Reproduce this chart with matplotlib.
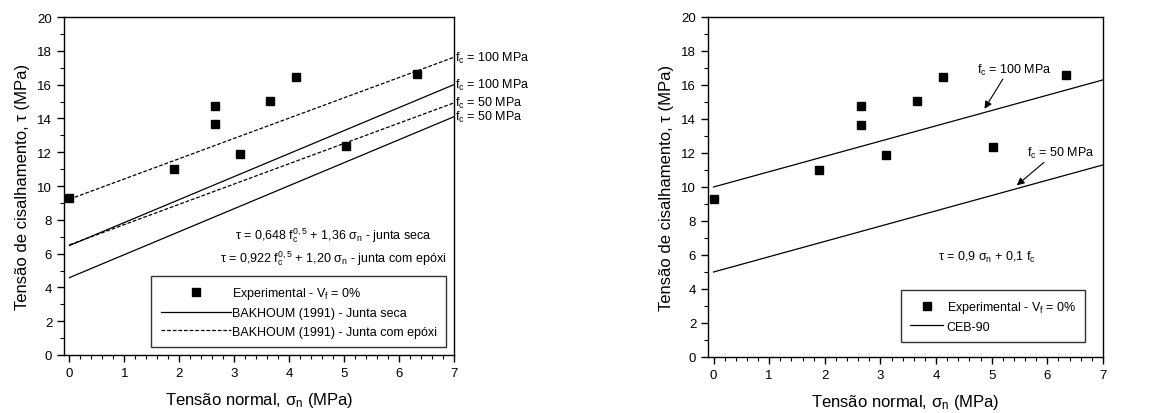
import matplotlib
matplotlib.use('Agg')
import matplotlib.pyplot as plt
from matplotlib.ticker import MultipleLocator
from matplotlib.lines import Line2D

plt.rcParams['font.family'] = ['Liberation Sans', 'DejaVu Sans']
plt.rcParams['mathtext.fontset'] = 'custom'
plt.rcParams['mathtext.rm'] = 'Liberation Sans'
plt.rcParams['mathtext.it'] = 'Liberation Sans'
plt.rcParams['mathtext.bf'] = 'Liberation Sans'

# experimental points (same in both panels)
sigma_exp = [0.0, 1.9, 2.65, 2.65, 3.1, 3.65, 4.12, 5.03, 6.33]
tau_exp   = [9.3, 11.0, 14.75, 13.65, 11.9, 15.05, 16.45, 12.35, 16.6]

# line endpoints
line_x = [0, 7]
bakhoum_seca_100  = [6.48, 16.0]
bakhoum_seca_50   = [4.58, 14.1]
bakhoum_epoxi_100 = [9.22, 17.62]
bakhoum_epoxi_50  = [6.52, 14.92]
ceb_100 = [10.0, 16.3]
ceb_50  = [5.0, 11.3]

left_labels = ['f$_c$ = 100 MPa', 'f$_c$ = 100 MPa', 'f$_c$ = 50 MPa', 'f$_c$ = 50 MPa']

BLACK = '#000000'
TXT = 9


def style_axes(ax):
    ax.set_xlim(-0.1, 7)
    ax.set_ylim(0, 20)
    ax.xaxis.set_major_locator(MultipleLocator(1))
    ax.xaxis.set_minor_locator(MultipleLocator(0.2))
    ax.yaxis.set_major_locator(MultipleLocator(2))
    ax.yaxis.set_minor_locator(MultipleLocator(1))
    ax.tick_params(which='major', direction='out', length=5, width=1, labelsize=9.5)
    ax.tick_params(which='minor', direction='out', length=3, width=0.8)
    for sp in ax.spines.values():
        sp.set_linewidth(1.0)
    ax.set_xlabel('Tensão normal, σ$_n$ (MPa)', fontsize=12, labelpad=8)
    ax.set_ylabel('Tensão de cisalhamento, τ (MPa)', fontsize=12, labelpad=5)


def arrow(ax, tail, head):
    ax.annotate('', xy=head, xytext=tail,
                arrowprops=dict(arrowstyle='-|>', color=BLACK, lw=0.8, mutation_scale=11,
                                shrinkA=0, shrinkB=0))


fig = plt.figure(figsize=(11.65, 4.14), dpi=100)
ax1 = fig.add_axes([64 / 1165, 1 - 356 / 414, 390 / 1165, 338 / 414])
ax2 = fig.add_axes([708 / 1165, 1 - 358 / 414, 395 / 1165, 340 / 414])

# ---- left panel
ax1.plot(sigma_exp, tau_exp, 's', color=BLACK, ms=6, clip_on=False, zorder=5)
ax1.plot(line_x, bakhoum_seca_100, '-', color=BLACK, lw=0.9)
ax1.plot(line_x, bakhoum_seca_50, '-', color=BLACK, lw=0.9)
ax1.plot(line_x, bakhoum_epoxi_100, '--', color=BLACK, lw=0.9, dashes=(3, 1.5))
ax1.plot(line_x, bakhoum_epoxi_50, '--', color=BLACK, lw=0.9, dashes=(3, 1.5))
ends = [bakhoum_epoxi_100[1], bakhoum_seca_100[1], bakhoum_epoxi_50[1], bakhoum_seca_50[1]]
for lab, yv in zip(left_labels, ends):
    ax1.text(7.02, yv, lab, fontsize=TXT, ha='left', va='center', clip_on=False)
ax1.text(4.8, 7.1, 'τ = 0,648 f$_c^{0,5}$ + 1,36 σ$_n$ - junta seca', fontsize=TXT, ha='center', va='center')
ax1.text(4.8, 5.75, 'τ = 0,922 f$_c^{0,5}$ + 1,20 σ$_n$ - junta com epóxi', fontsize=TXT, ha='center', va='center')
handles1 = [
    Line2D([], [], ls='none', marker='s', color=BLACK, ms=6),
    Line2D([], [], ls='-', color=BLACK, lw=0.9),
    Line2D([], [], ls='--', color=BLACK, lw=0.9, dashes=(3, 1.5)),
]
leg1 = ax1.legend(handles1, ['Experimental - V$_f$ = 0%', 'BAKHOUM (1991) - Junta seca',
                             'BAKHOUM (1991) - Junta com epóxi'],
                  loc='lower right', bbox_to_anchor=(0.98, 0.024), fontsize=TXT, frameon=True,
                  fancybox=False, edgecolor=BLACK, handlelength=5.6, handletextpad=0.1,
                  borderpad=0.75, labelspacing=0.5, borderaxespad=0)
leg1.get_frame().set_linewidth(1.0)
style_axes(ax1)

# ---- right panel
ax2.plot(sigma_exp, tau_exp, 's', color=BLACK, ms=6, clip_on=False, zorder=5)
ax2.plot(line_x, ceb_100, '-', color=BLACK, lw=0.9)
ax2.plot(line_x, ceb_50, '-', color=BLACK, lw=0.9)
ax2.text(4.73, 16.9, 'f$_c$ = 100 MPa', fontsize=TXT, ha='left', va='center')
ax2.text(5.63, 12.05, 'f$_c$ = 50 MPa', fontsize=TXT, ha='left', va='center')
arrow(ax2, (5.2, 16.35), (4.87, 14.6))
arrow(ax2, (5.94, 11.45), (5.45, 10.1))
ax2.text(4.03, 5.9, 'τ = 0,9 σ$_n$ + 0,1 f$_c$', fontsize=TXT, ha='left', va='center')
handles2 = [
    Line2D([], [], ls='none', marker='s', color=BLACK, ms=6),
    Line2D([], [], ls='-', color=BLACK, lw=0.9),
]
leg2 = ax2.legend(handles2, ['Experimental - V$_f$ = 0%', 'CEB-90'],
                  loc='lower right', bbox_to_anchor=(0.955, 0.044), fontsize=TXT, frameon=True,
                  fancybox=False, edgecolor=BLACK, handlelength=2.6, handletextpad=0.3,
                  borderpad=0.75, labelspacing=0.45, borderaxespad=0)
leg2.get_frame().set_linewidth(1.0)
style_axes(ax2)

fig.savefig('out.png', dpi=100)
